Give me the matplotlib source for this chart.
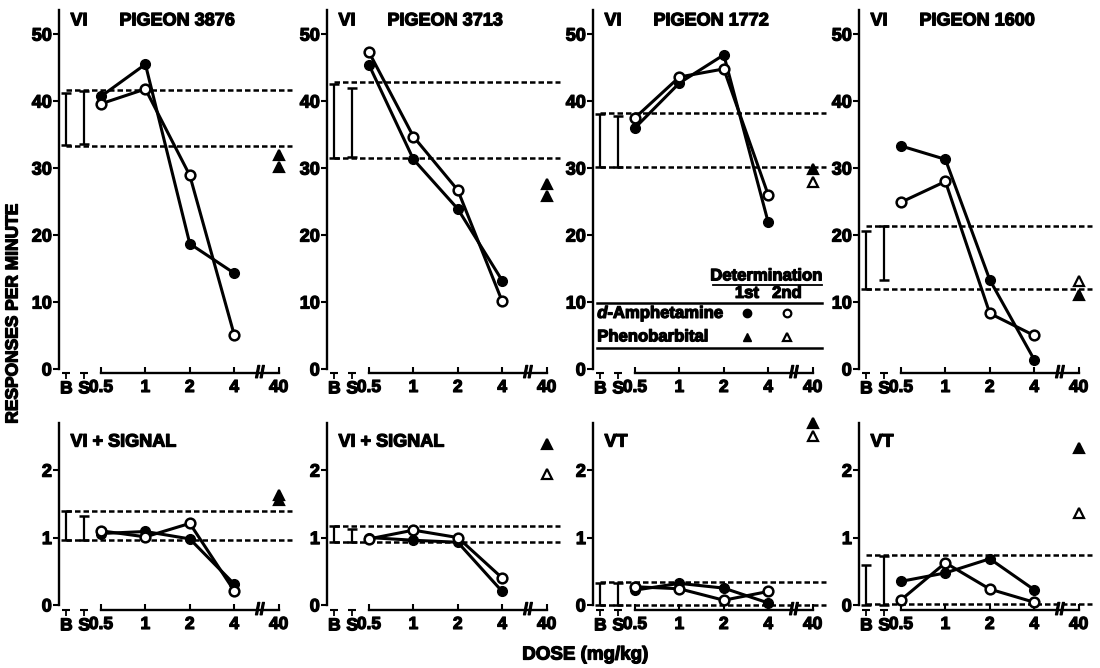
import numpy as np
import matplotlib.pyplot as plt
import matplotlib.patheffects as pe
from matplotlib.text import Text

plt.rcParams['font.family'] = ['Liberation Sans', 'DejaVu Sans']
plt.rcParams['font.weight'] = 'bold'

# x layout: doses on an evenly spaced axis, B and S baseline points to the left
dose_labels = ['0.5', '1', '2', '4', '40']
dose_pos = [0, 1, 2, 3, 4]
base_labels = ['B', 'S']
base_pos = [-0.78, -0.38]

# --- top row: VI schedule, responses per minute ---
vi_pigeons = ['3876', '3713', '1772', '1600']
vi_amph_1st = [[40.7, 45.5, 18.7, 14.3],
               [45.4, 31.3, 23.9, 13.2],
               [36.0, 42.7, 46.9, 21.9],
               [33.3, 31.3, 13.3, 1.4]]
vi_amph_2nd = [[39.6, 41.8, 28.9, 5.1],
               [47.3, 34.7, 26.7, 10.1],
               [37.5, 43.6, 44.8, 26.0],
               [24.9, 28.0, 8.3, 5.0]]
vi_pheno = [[32.0, 30.2], [27.6, 25.8], [29.9, 27.9], [13.2, 11.0]]
vi_pheno_open = [[False, False], [False, False], [False, True], [True, False]]
vi_band = [[33.3, 41.6], [31.5, 42.8], [30.1, 38.2], [12.0, 21.4]]
vi_B_range = [[33.4, 41.2], [31.5, 42.6], [30.1, 38.0], [12.0, 20.6]]
vi_S_range = [[33.6, 41.5], [31.7, 42.0], [30.1, 37.8], [13.3, 21.3]]

# --- bottom row ---
low_titles = ['VI + SIGNAL', 'VI + SIGNAL', 'VT', 'VT']
low_amph_1st = [[1.06, 1.09, 0.98, 0.31],
                [1.00, 0.96, 0.93, 0.20],
                [0.22, 0.32, 0.25, 0.03],
                [0.35, 0.475, 0.685, 0.225]]
low_amph_2nd = [[1.10, 1.01, 1.21, 0.21],
                [0.98, 1.11, 1.00, 0.40],
                [0.27, 0.24, 0.07, 0.20],
                [0.075, 0.625, 0.235, 0.04]]
low_pheno = [[1.63, 1.56], [2.39, 1.94], [2.70, 2.50], [2.33, 1.37]]
low_pheno_open = [[False, False], [False, True], [False, True], [False, True]]
low_band = [[0.97, 1.39], [0.93, 1.17], [0.0, 0.34], [0.02, 0.74]]
low_B_range = [[0.97, 1.40], [0.93, 1.17], [0.0, 0.32], [0.0, 0.60]]
low_S_range = [[0.97, 1.32], [0.93, 1.13], [0.0, 0.32], [0.0, 0.73]]

W, H = 1100, 668
px_per_unit = 44.4
col_05 = [101, 369, 635, 901]
xmin, xmax = -0.95, 4.3

fig = plt.figure(figsize=(11, 6.68), dpi=100)


def make_axes(col, bottom_px, top_px, ylo, ytop, yticks):
    left = col_05[col] + xmin * px_per_unit
    width = (xmax - xmin) * px_per_unit
    ax = fig.add_axes([left / W, 1 - bottom_px / H, width / W, (bottom_px - top_px) / H])
    ax.set_xlim(xmin, xmax)
    ax.set_ylim(ylo, ytop)
    for s in ['top', 'right']:
        ax.spines[s].set_visible(False)
    ax.spines['left'].set_bounds(0, ytop)
    ax.spines['left'].set_linewidth(1.7)
    ax.spines['bottom'].set_bounds(0, 4)
    ax.spines['bottom'].set_linewidth(1.7)
    ax.set_yticks(yticks)
    ax.set_yticklabels([str(t) for t in yticks])
    ax.tick_params(axis='y', direction='out', length=4, width=1.5, pad=1, labelsize=13)
    ax.set_xticks(dose_pos)
    ax.set_xticklabels(dose_labels)
    ax.set_xticks(base_pos, minor=True)
    ax.set_xticklabels(base_labels, minor=True)
    ax.tick_params(axis='x', which='major', direction='in', length=4, width=1.5, pad=5, labelsize=12.5)
    ax.tick_params(axis='x', which='minor', direction='out', length=4, width=1.3, pad=2, labelsize=12.5)
    # caps on B / S ticks
    ax.plot(base_pos, [ylo] * 2, ls='none', marker='_', ms=6, mew=1.5, color='k', clip_on=False)
    ax.text(3.58, ylo, '//', ha='center', va='center', fontsize=12, fontweight='bold')
    return ax


def draw_panel(ax, amph1, amph2, pheno, pheno_open, band, brange, srange):
    ax.hlines(band, base_pos[0], 4.3, colors='k', linestyles=(0, (2.2, 1.2)), lw=1.8, clip_on=False)
    for xp, (lo, hi) in zip(base_pos, [brange, srange]):
        ax.errorbar(xp, (lo + hi) / 2, yerr=(hi - lo) / 2, fmt='none', ecolor='k',
                    elinewidth=1.6, capsize=3.5, capthick=1.8, clip_on=False)
    ax.plot(dose_pos[:4], amph1, color='k', lw=2.2, marker='o', ms=7,
            mfc='k', mec='k', clip_on=False, zorder=3)
    ax.plot(dose_pos[:4], amph2, color='k', lw=2.2, marker='o', ms=7,
            mfc='white', mec='k', mew=1.8, clip_on=False, zorder=4)
    for v, op in zip(pheno, pheno_open):
        ax.plot(dose_pos[4], v, ls='none', marker='^', ms=6.5,
                mfc='white' if op else 'k', mec='k', mew=1.6, clip_on=False)


for i in range(4):
    ax = make_axes(i, 373, 10, -0.6, 53.6, [0, 10, 20, 30, 40, 50])
    draw_panel(ax, vi_amph_1st[i], vi_amph_2nd[i], vi_pheno[i], vi_pheno_open[i],
               vi_band[i], vi_B_range[i], vi_S_range[i])
    ax.text(0.05, 0.97, 'VI', transform=ax.transAxes, ha='left', va='center', fontsize=13)
    ax.text(0.26, 0.97, 'PIGEON ' + vi_pigeons[i], transform=ax.transAxes,
            ha='left', va='center', fontsize=13)
    if i == 2:
        # legend table
        ax.text(4.21, 13.9, 'Determination', ha='right', va='center', fontsize=12)
        ax.plot([1.76, 4.21], [12.6, 12.6], color='k', lw=1.3)
        ax.text(2.52, 11.3, '1st', ha='center', va='center', fontsize=12)
        ax.text(3.42, 11.3, '2nd', ha='center', va='center', fontsize=12)
        ax.plot([-0.85, 4.21], [9.85, 9.85], color='k', lw=1.8, clip_on=False)
        dt = ax.text(-0.85, 8.3, 'd', ha='left', va='center', fontsize=12, style='italic')
        ax.annotate('-Amphetamine', xy=(1, 0.5), xycoords=dt, ha='left', va='center', fontsize=12)
        ax.text(-0.85, 4.8, 'Phenobarbital', ha='left', va='center', fontsize=12)
        ax.plot(2.52, 8.3, marker='o', ms=6, color='k')
        ax.plot(3.42, 8.3, marker='o', ms=5.5, mfc='white', mec='k', mew=1.6)
        ax.plot(2.52, 4.8, marker='^', ms=6, color='k')
        ax.plot(3.42, 4.8, marker='^', ms=5.5, mfc='white', mec='k', mew=1.6)
        ax.plot([-0.85, 4.21], [3.1, 3.1], color='k', lw=1.8, clip_on=False)

for i in range(4):
    ax = make_axes(i, 610, 423, -0.075, 2.70, [0, 1, 2])
    draw_panel(ax, low_amph_1st[i], low_amph_2nd[i], low_pheno[i], low_pheno_open[i],
               low_band[i], low_B_range[i], low_S_range[i])
    ax.text(0.05, 0.898, low_titles[i], transform=ax.transAxes, ha='left', va='center', fontsize=13)

fig.text(13 / W, 1 - 314 / H, 'RESPONSES PER MINUTE', rotation=90, ha='center', va='center', fontsize=12.5)
fig.text(585 / W, 1 - 655 / H, 'DOSE (mg/kg)', ha='center', va='center', fontsize=13.5)

# heavier lettering, like the original ink drawing
for t in fig.findobj(Text):
    t.set_path_effects([pe.withStroke(linewidth=0.9, foreground='k')])

fig.savefig('out.png', dpi=100, facecolor='white')
